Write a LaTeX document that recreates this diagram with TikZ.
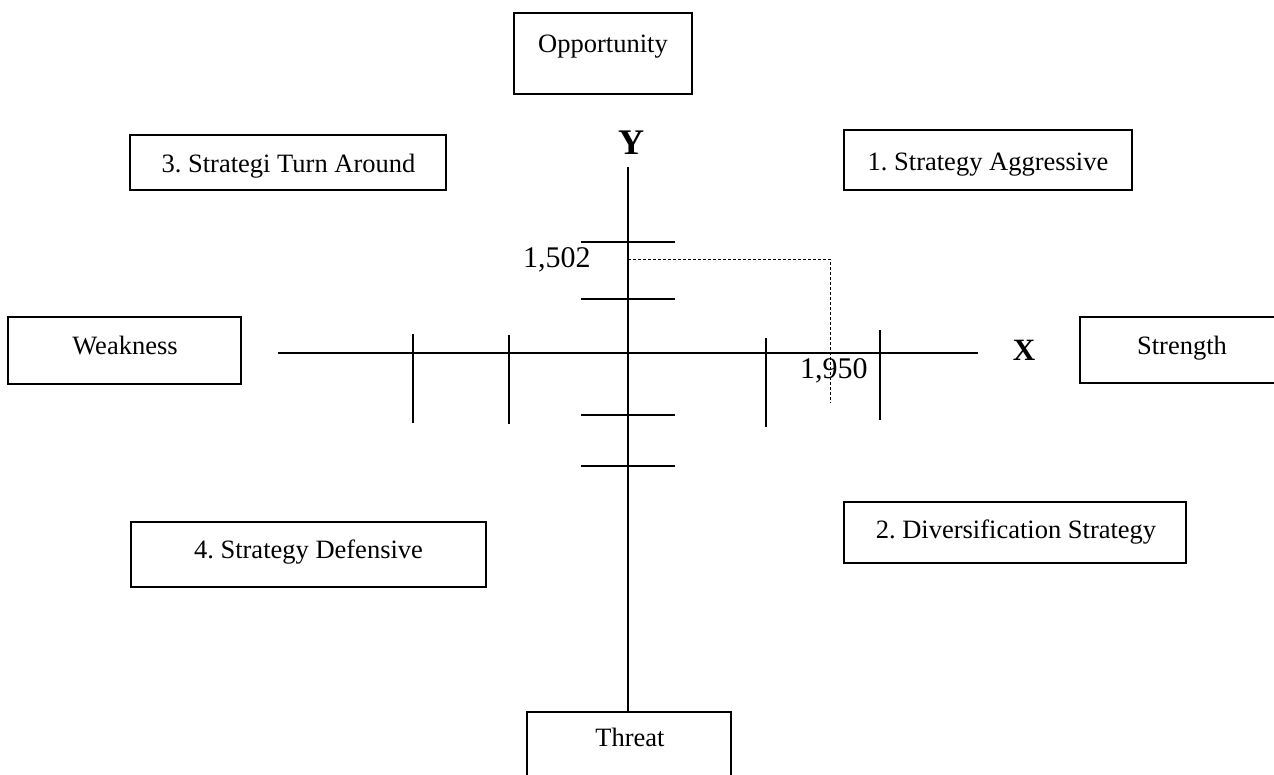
\documentclass[tikz,border=0pt]{standalone}
\usepackage{fontspec}
\setmainfont{Liberation Serif}
\frenchspacing
\begin{document}
\begin{tikzpicture}[x=1pt,y=-1pt,
  boxstyle/.style={draw=black, line width=2.4pt, inner sep=0pt, outer sep=0pt},
  lbl/.style={anchor=base, inner sep=0pt, font=\fontsize{26.5}{30}\selectfont},
  axisline/.style={line width=2.6pt},
  tickline/.style={line width=2.6pt},
  guide/.style={line width=1pt, dash pattern=on 3pt off 2pt},
  numlbl/.style={anchor=base west, inner sep=0pt, font=\fontsize{30}{34}\selectfont},
  axlbl/.style={anchor=base, inner sep=0pt, font=\bfseries}
]
\useasboundingbox (0,0) rectangle (1274,774);
% boxes
\path[boxstyle] (514,13) rectangle (692,94) node[midway] (opp) {};
\path[boxstyle] (130,135) rectangle (446,190) node[midway] (turn) {};
\path[boxstyle] (844,130) rectangle (1132,190) node[midway] (aggr) {};
\path[boxstyle] (8,317) rectangle (241,384) node[midway] (weak) {};
\path[boxstyle] (1080,317) rectangle (1300,383) node[midway] (str) {};
\path[boxstyle] (844,502) rectangle (1186,563) node[midway] (div) {};
\path[boxstyle] (131,522) rectangle (486,587) node[midway] (def) {};
\path[boxstyle] (527,712) rectangle (731,800) node[midway] (thr) {};
% box texts
\node[lbl] (toppt) at (603,52) {Opportunity};
\node[lbl] (tturn) at (288.5,172) {3. Strategi Turn Around};
\node[lbl] (taggr) at (988,170) {1. Strategy Aggressive};
\node[lbl] (tweak) at (125,354) {Weakness};
\node[lbl] (tstr) at (1182,354) {Strength};
\node[lbl] (tdiv) at (1016,538) {2. Diversification Strategy};
\node[lbl] (tdef) at (308.5,558) {4. Strategy Defensive};
\node[lbl] (tthr) at (630,746) {Threat};
% axis labels
\node[axlbl, font=\bfseries\fontsize{36}{40}\selectfont] (ylab) at (631,154) {Y};
\node[axlbl, font=\bfseries\fontsize{31}{34}\selectfont] (xlab) at (1024,360) {X};
% axes
\coordinate (ytop) at (628,167);
\coordinate (ybot) at (628,712);
\coordinate (xl) at (278,353);
\coordinate (xr) at (978,353);
\draw[axisline] (ytop) -- (ybot);
\draw[axisline] (xl) -- (xr);
% y ticks
\foreach \yy in {242,299,415,466}
  \draw[tickline] (581,\yy) -- (675,\yy);
% x ticks
\draw[tickline] (413,334) -- (413,423);
\draw[tickline] (509,335) -- (509,424);
\draw[tickline] (766,338) -- (766,427);
\draw[tickline] (880,330) -- (880,420);
% guide
\coordinate (g1) at (628,259);
\coordinate (g2) at (830,259);
\coordinate (g3) at (830,403);
\draw[guide] (g1) -- (g2) -- (g3);
% numbers
\node[numlbl] (n1) at (523,267) {1,502};
\node[numlbl] (n2) at (800,378) {1,950};
\end{tikzpicture}
\end{document}
